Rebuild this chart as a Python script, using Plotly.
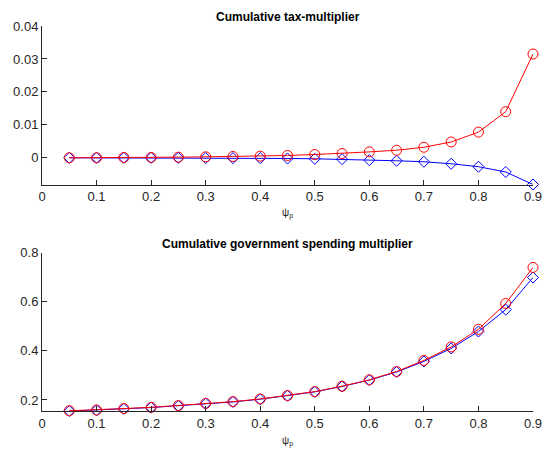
import plotly.graph_objects as go

psi = [0.05, 0.1, 0.15, 0.2, 0.25, 0.3, 0.35, 0.4, 0.45, 0.5, 0.55, 0.6, 0.65, 0.7, 0.75, 0.8, 0.85, 0.9]

tax_red = [0.0000, 0.0000, 0.0001, 0.0001, 0.0002, 0.0003, 0.0004, 0.0005, 0.0007, 0.0010,
           0.0013, 0.0018, 0.0023, 0.0032, 0.0048, 0.0078, 0.0140, 0.0315]
tax_blue = [0.0000, 0.0000, 0.0000, 0.0000, 0.0000, -0.0001, -0.0001, -0.0001, -0.0002, -0.0003,
            -0.0004, -0.0007, -0.0009, -0.0012, -0.0018, -0.0027, -0.0043, -0.0081]

gov_red = [0.156, 0.159, 0.165, 0.170, 0.177, 0.186, 0.193, 0.204, 0.218, 0.234,
           0.256, 0.282, 0.316, 0.361, 0.416, 0.488, 0.593, 0.740]
gov_blue = [0.155, 0.158, 0.164, 0.169, 0.176, 0.185, 0.192, 0.203, 0.217, 0.233,
            0.255, 0.281, 0.314, 0.357, 0.410, 0.479, 0.568, 0.699]

x_ticks = [0, 0.1, 0.2, 0.3, 0.4, 0.5, 0.6, 0.7, 0.8, 0.9]
x_ticktext = ["0", "0.1", "0.2", "0.3", "0.4", "0.5", "0.6", "0.7", "0.8", "0.9"]
tax_yticks = [0, 0.01, 0.02, 0.03, 0.04]
tax_yticktext = ["0", "0.01", "0.02", "0.03", "0.04"]
gov_yticks = [0.2, 0.4, 0.6, 0.8]
gov_yticktext = ["0.2", "0.4", "0.6", "0.8"]

titles = ["Cumulative tax-multiplier", "Cumulative government spending multiplier"]
xlabel = "ψ<sub>p</sub>"

W, H = 543, 451
FONT = "Liberation Sans, Arial, sans-serif"
AX = "#262626"

fig = go.Figure()

def add_pair(blue, red, xa, ya):
    fig.add_trace(go.Scatter(x=psi, y=blue, mode="lines+markers", xaxis=xa, yaxis=ya,
                             line=dict(color="#0000ff", width=1),
                             marker=dict(symbol="diamond-open", size=8.5, color="#0000ff",
                                         line=dict(width=1, color="#0000ff")),
                             cliponaxis=False, showlegend=False))
    fig.add_trace(go.Scatter(x=psi, y=red, mode="lines+markers", xaxis=xa, yaxis=ya,
                             line=dict(color="#ff0000", width=1),
                             marker=dict(symbol="circle-open", size=10, color="#ff0000",
                                         line=dict(width=1, color="#ff0000")),
                             cliponaxis=False, showlegend=False))

add_pair(tax_blue, tax_red, "x", "y")
add_pair(gov_blue, gov_red, "x2", "y2")

top_dom = [1 - 184.5 / H, 1 - 26 / H]
bot_dom = [1 - 411 / H, 1 - 252.7 / H]

common_x = dict(range=[0, 0.9], tickvals=x_ticks, ticktext=x_ticktext, showline=True,
                linecolor=AX, linewidth=1, ticks="inside", ticklen=5, tickcolor=AX,
                showgrid=False, zeroline=False, mirror=False, automargin=False,
                tickfont=dict(family=FONT, size=13, color=AX))
common_y = dict(showline=True, linecolor=AX, linewidth=1, ticks="inside", ticklen=5,
                tickcolor=AX, showgrid=False, zeroline=False, mirror=False, automargin=False,
                tickfont=dict(family=FONT, size=13, color=AX))

fig.update_layout(
    width=W, height=H,
    margin=dict(l=41.5, r=10, t=0, b=0, autoexpand=False),
    paper_bgcolor="white", plot_bgcolor="white",
    xaxis=dict(domain=[0, 1], anchor="y", **common_x),
    yaxis=dict(domain=top_dom, anchor="x", range=[-0.0081, 0.04],
               tickvals=tax_yticks, ticktext=tax_yticktext, **common_y),
    xaxis2=dict(domain=[0, 1], anchor="y2", **common_x),
    yaxis2=dict(domain=bot_dom, anchor="x2", range=[0.155, 0.8],
                tickvals=gov_yticks, ticktext=gov_yticktext, **common_y),
)

annots = [
    (titles[0], 1 - 17 / H, True),
    (titles[1], 1 - 244 / H, True),
    (xlabel, 1 - 213 / H, False),
    (xlabel, 1 - 441 / H, False),
]
for text, y, bold in annots:
    fig.add_annotation(text=("<b>%s</b>" % text) if bold else text,
                       xref="paper", yref="paper", x=0.5, y=y,
                       xanchor="center", yanchor="middle", showarrow=False,
                       font=dict(family=FONT, size=12 if bold else 10,
                                 color="#000000" if bold else AX))

fig.write_html("out.html", config={"displayModeBar": False},
               post_script="document.body.style.margin='0px';document.body.style.padding='0px';document.documentElement.style.overflow='hidden';")
